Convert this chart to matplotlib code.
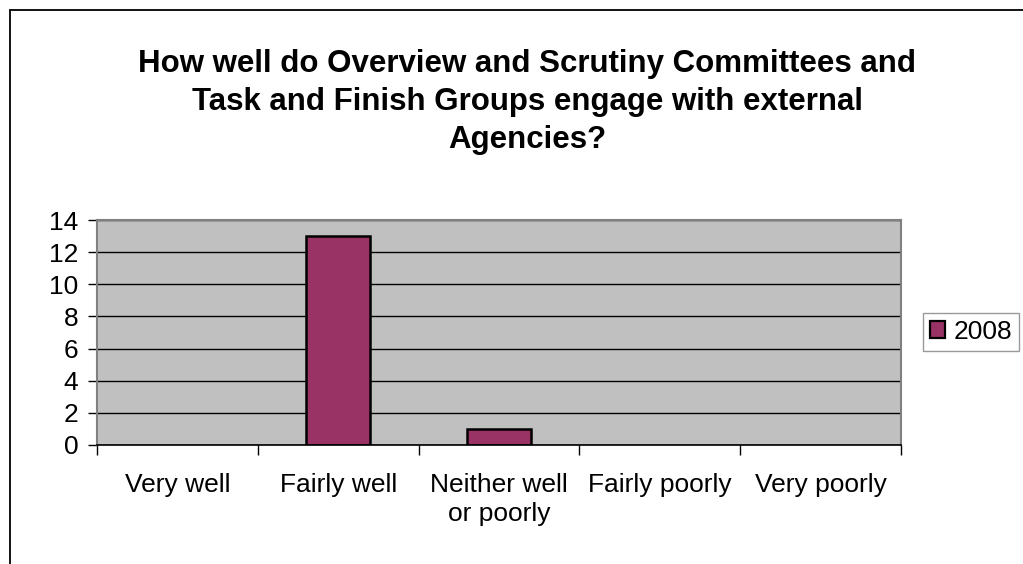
import matplotlib
matplotlib.use("Agg")
import matplotlib.pyplot as plt
from matplotlib.patches import Rectangle
import numpy as np

categories = ["Very well", "Fairly well", "Neither well\nor poorly", "Fairly poorly", "Very poorly"]
values_2008 = [0, 13, 1, 0, 0]
series_label = "2008"
title = "How well do Overview and Scrutiny Committees and\nTask and Finish Groups engage with external\nAgencies?"

plt.rcParams['font.family'] = ['Liberation Sans', 'DejaVu Sans']

W, H = 1023, 564
fig = plt.figure(figsize=(W/100, H/100), dpi=100)

# outer chart border (extends off right/bottom)
fig.patches.append(Rectangle((10/W, -0.1), 1.2, 1 - 10/H + 0.1, transform=fig.transFigure,
                             fill=False, edgecolor='black', linewidth=1.3))

ax = fig.add_axes([97/W, 1 - 445/H, 804/W, 225/H])
ax.set_facecolor('#C0C0C0')
x = np.arange(len(categories))
edge_lw = [1.8 if v > 0 else 0 for v in values_2008]
ax.bar(x, values_2008, width=0.4, color='#993366', edgecolor='black', linewidth=edge_lw,
       label=series_label, zorder=2)
ax.set_xlim(-0.5, len(categories) - 0.5)
ax.set_ylim(0, 14)
ax.set_yticks(np.arange(0, 15, 2))
ax.yaxis.grid(True, color='black', linewidth=1.0, zorder=1)
ax.set_axisbelow(True)
ax.set_xticks(x)
ax.set_xticklabels(categories, fontsize=19, linespacing=1.3, va='top')
ax.tick_params(axis='x', length=0, pad=20)
ax.set_xticks(np.arange(-0.5, len(categories), 1), minor=True)
ax.tick_params(axis='x', which='minor', length=7, width=1, color='black', direction='out')
ax.tick_params(axis='y', labelsize=19, length=6.5, width=1, color='black', direction='out', pad=7)
for s in ['top', 'right', 'left']:
    ax.spines[s].set_color('#808080')
    ax.spines[s].set_linewidth(1.5)
ax.spines['bottom'].set_color('black')
ax.spines['bottom'].set_linewidth(1.2)
for s in ax.spines.values():
    s.set_zorder(3)

fig.text(527/W, 1 - 102/H, title, ha='center', va='center', fontsize=22.5,
         fontweight='bold', linespacing=1.34)

leg = ax.legend(loc='center left', bbox_to_anchor=(923/W, 1 - 332/H), bbox_transform=fig.transFigure,
                fontsize=19, frameon=True, fancybox=False, edgecolor='#808080',
                handlelength=0.6, handleheight=0.6, handletextpad=0.3, borderpad=0.25,
                borderaxespad=0)
leg.get_frame().set_linewidth(1.0)
leg.legend_handles[0].set_linewidth(1.6)

fig.savefig("out.png", dpi=100)
